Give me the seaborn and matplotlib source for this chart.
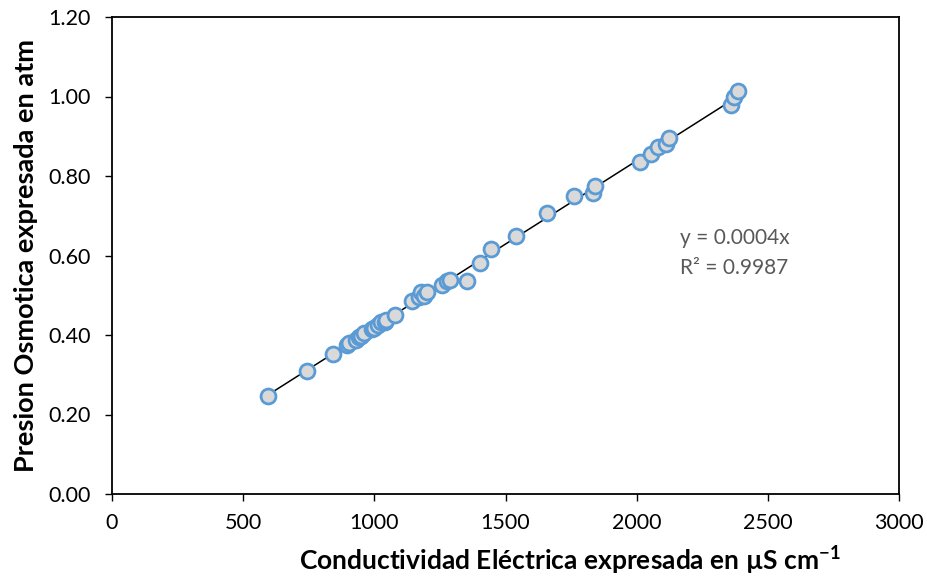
import numpy as np
import pandas as pd
import matplotlib
matplotlib.use("Agg")
import matplotlib.pyplot as plt
import seaborn as sns

conductividad = [595, 743, 842, 897, 905, 930, 940, 948, 962, 990, 1000, 1015, 1025,
                 1040, 1045, 1080, 1143, 1170, 1178, 1190, 1200, 1258, 1278, 1290,
                 1353, 1403, 1445, 1540, 1660, 1763, 1835, 1842, 2013, 2055, 2080,
                 2112, 2125, 2360, 2372, 2385]
presion = [0.247, 0.310, 0.353, 0.375, 0.380, 0.388, 0.396, 0.398, 0.405, 0.415, 0.418,
           0.425, 0.432, 0.433, 0.437, 0.450, 0.486, 0.495, 0.508, 0.497, 0.507, 0.527,
           0.536, 0.538, 0.536, 0.581, 0.617, 0.650, 0.707, 0.750, 0.756, 0.774, 0.836,
           0.855, 0.872, 0.880, 0.895, 0.978, 0.999, 1.014]
x_ticks = [0, 500, 1000, 1500, 2000, 2500, 3000]
y_ticks = [0.0, 0.2, 0.4, 0.6, 0.8, 1.0, 1.2]
eq_text = "y = 0.0004x"
r2_text = "R² = 0.9987"

sns.set_theme(style="white")
plt.rcParams['font.family'] = ['Lato', 'DejaVu Sans']
plt.rcParams['mathtext.fontset'] = 'custom'
plt.rcParams['mathtext.rm'] = 'Lato'
plt.rcParams['mathtext.bf'] = 'Lato:bold'

df = pd.DataFrame({"x": conductividad, "y": presion})

fig = plt.figure(figsize=(9.27, 5.80), dpi=100)
ax = fig.add_axes([112/927, 86/580, (899-112)/927, (494-17)/580])

# trend line through origin
xa = np.array(conductividad, dtype=float)
ya = np.array(presion, dtype=float)
slope = np.sum(xa * ya) / np.sum(xa * xa)
xl = np.array([xa.min(), xa.max()])
sns.lineplot(x=xl, y=slope * xl, ax=ax, color='black', linewidth=1.1, zorder=2)

sns.scatterplot(data=df, x="x", y="y", ax=ax, s=115, marker='o',
                facecolor='#D9D9D9', edgecolor='#5B9BD5', linewidth=2.0, zorder=3)

ax.set_xlim(0, 3000)
ax.set_ylim(0, 1.2)
ax.set_xticks(x_ticks)
ax.set_xticklabels([str(t) for t in x_ticks])
ax.set_yticks(y_ticks)
ax.set_yticklabels([f"{t:.2f}" for t in y_ticks])
ax.tick_params(axis='both', direction='out', length=5, width=1, color='black',
               labelsize=15.5, labelcolor='black', bottom=True, left=True)
ax.tick_params(axis='x', pad=9)
ax.tick_params(axis='y', pad=10)
for sp in ax.spines.values():
    sp.set_visible(True)
    sp.set_color('black')
    sp.set_linewidth(1.3)

ax.set_xlabel(r"Conductividad Eléctrica expresada en µS cm$^{\mathbf{-1}}$",
              fontsize=19, fontweight='bold', color='black')
ax.set_ylabel("Presion Osmotica expresada en atm", fontsize=19.5, fontweight='bold',
              color='black')
ax.xaxis.set_label_coords(0.582, -0.104)
ax.yaxis.set_label_coords(-0.094, 0.5)

ax.text(2165, 0.644, eq_text, fontsize=15, color='#595959', va='center', ha='left')
ax.text(2165, 0.569, r2_text, fontsize=15, color='#595959', va='center', ha='left')

fig.savefig("out.png", dpi=100)
